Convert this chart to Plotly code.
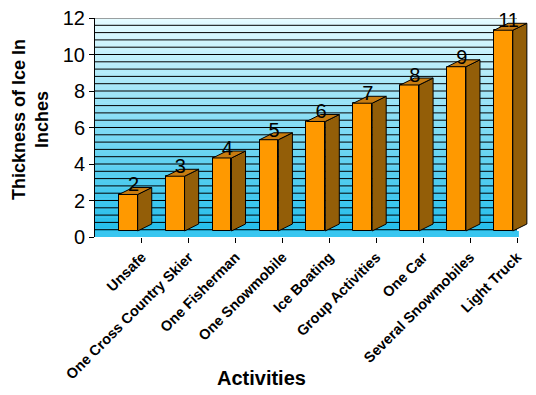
import plotly.graph_objects as go

categories = ["Unsafe", "One Cross Country Skier", "One Fisherman", "One Snowmobile",
              "Ice Boating", "Group Activities", "One Car", "Several Snowmobiles", "Light Truck"]
values = [2, 3, 4, 5, 6, 7, 8, 9, 11]
y_ticks = [0, 2, 4, 6, 8, 10, 12]

FLOOR = 0.33   # height of the 3D floor band (y units)
DX = 0.30      # depth offset in x (category units)
DY = 0.38      # depth offset in y (value units)
LEFT = 0.51    # front face left offset within category
W = 0.40       # front face width
NCAT = len(categories)

FONT = "Liberation Sans, Arial, sans-serif"

fig = go.Figure()

# front faces
centers = [i + LEFT + W / 2 for i in range(len(values))]
fig.add_trace(go.Bar(
    x=centers, y=values, base=FLOOR, width=W,
    marker=dict(color="#FF9900", line=dict(color="black", width=1)),
    hoverinfo="skip", showlegend=False,
))

# side and top faces
sx, sy, tx, ty = [], [], [], []
for i, v in enumerate(values):
    l = i + LEFT
    r = l + W
    b = FLOOR
    t = v + FLOOR
    sx += [r, r + DX, r + DX, r, r, None]
    sy += [b, b + DY, t + DY, t, b, None]
    tx += [l, l + DX, r + DX, r, l, None]
    ty += [t, t + DY, t + DY, t, t, None]

fig.add_trace(go.Scatter(x=sx, y=sy, mode="lines", fill="toself",
                         fillcolor="#935E08", line=dict(color="black", width=1),
                         hoverinfo="skip", showlegend=False))
fig.add_trace(go.Scatter(x=tx, y=ty, mode="lines", fill="toself",
                         fillcolor="#C87C10", line=dict(color="black", width=1),
                         hoverinfo="skip", showlegend=False))

# value labels
fig.add_trace(go.Scatter(
    x=[c + DX / 2 - 0.04 for c in centers],
    y=[v + FLOOR + DY / 2 + 0.25 for v in values],
    mode="text", text=[str(v) for v in values],
    textposition="middle center",
    textfont=dict(family=FONT, size=20, color="black"),
    hoverinfo="skip", showlegend=False, cliponaxis=False,
))

shapes = []
# gradient back wall
N = 80
top = (228, 251, 255)
bot = (30, 188, 234)
for k in range(N):
    f = k / (N - 1)
    c = tuple(round(bot[j] + (top[j] - bot[j]) * f) for j in range(3))
    shapes.append(dict(type="rect", xref="x", yref="y",
                       x0=0, x1=NCAT, y0=12 * k / N, y1=12 * (k + 1) / N + 0.03,
                       fillcolor="rgb(%d,%d,%d)" % c, line=dict(width=0),
                       layer="below"))
# wall grid lines every 0.4
for k in range(1, 30):
    shapes.append(dict(type="line", xref="x", yref="y", x0=0, x1=NCAT,
                       y0=k * 0.4, y1=k * 0.4, line=dict(color="black", width=1),
                       layer="between"))
shapes.append(dict(type="line", xref="x", yref="y", x0=0, x1=NCAT,
                   y0=12, y1=12, line=dict(color="#808080", width=1.5),
                   layer="between"))
# floor band
shapes.append(dict(type="rect", xref="x", yref="y", x0=0, x1=NCAT + 0.04,
                   y0=0, y1=FLOOR, fillcolor="#38C6F0",
                   line=dict(width=0), layer="between"))

fig.update_layout(
    width=536, height=395,
    margin=dict(l=95, r=5, t=18, b=158),
    paper_bgcolor="white", plot_bgcolor="white",
    shapes=shapes,
    bargap=0,
    xaxis=dict(
        range=[0, 9.298], tickmode="array",
        tickvals=[i + 1 for i in range(NCAT)],
        ticktext=categories, tickangle=-45,
        tickfont=dict(family=FONT, size=14.5, color="black", weight="bold"),
        ticks="outside", ticklen=5, tickcolor="black",
        showgrid=False, zeroline=False, showline=False,
        fixedrange=True, automargin=False, ticklabeloverflow="allow",
    ),
    yaxis=dict(
        range=[0, 12], tickmode="array", tickvals=y_ticks,
        tickfont=dict(family=FONT, size=20, color="black"),
        ticks="outside", ticklen=5, tickcolor="black",
        showgrid=False,
        zeroline=False, showline=True, linecolor="black", linewidth=1,
        fixedrange=True, automargin=False, ticklabeloverflow="allow",
    ),
    annotations=[
        dict(text="Thickness of Ice In<br>Inches", xref="paper", yref="paper",
             x=-0.149, y=0.534, xanchor="center", yanchor="middle",
             textangle=-90, showarrow=False,
             font=dict(family=FONT, size=18, color="black", weight="bold")),
        dict(text="Activities", xref="paper", yref="paper",
             x=0.383, y=-0.644, xanchor="center", yanchor="middle",
             showarrow=False,
             font=dict(family=FONT, size=20, color="black", weight="bold")),
    ],
)

fig.write_html("out.html", config={"displayModeBar": False},
               post_script="document.body.style.margin='0';document.body.style.overflow='hidden';")
